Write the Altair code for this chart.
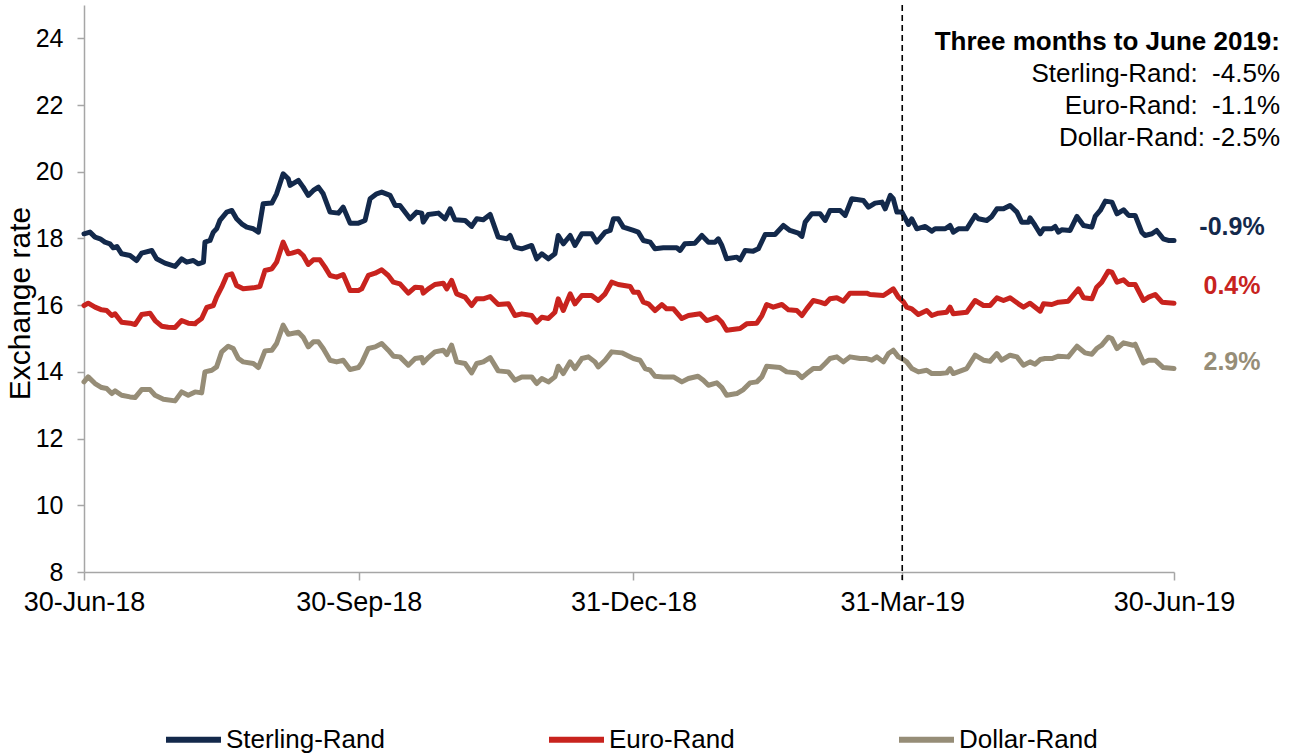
import altair as alt
import pandas as pd

START = "2018-06-30"
series_names = ["Sterling-Rand", "Euro-Rand", "Dollar-Rand"]
series_colors = ["#13294b", "#c8231e", "#968d77"]

# days after 30-Jun-18 and exchange rate
sterling_days = [0, 2.0, 3.7, 5.4, 7.0, 8.7, 9.8, 11.0, 12.6, 15.4, 17.6, 19.3, 22.7, 24.3, 27.1, 30.5,
                 32.7, 34.4, 36.6, 38.3, 40.0, 40.5, 42.2, 43.3, 44.4, 45.5, 47.8, 49.5, 51.1, 52.8, 54.5,
                 56.7, 58.4, 60.0, 62.9, 64.5, 66.7, 68.4, 69.0, 71.8, 73.4, 75.1, 76.8, 78.5, 80.1, 82.4,
                 85.2, 86.8, 89.1, 91.9, 94.1, 95.8, 98.0, 99.7, 102.5, 104.2, 105.8, 109.2, 111.4, 113.1,
                 113.6, 115.3, 118.7, 120.9, 122.6, 124.2, 127.6, 129.8, 131.5, 133.7, 136.0, 138.7, 141.6,
                 142.7, 144.3, 146.6, 149.9, 151.6, 153.3, 155.5, 157.7, 158.8, 160.5, 162.8, 164.4, 166.7,
                 170.0, 171.7, 174.5, 176.2, 177.3, 178.9, 180.6, 184.0, 185.6, 187.3, 189.6, 191.2, 194.0,
                 198.5, 199.6, 201.2, 204.6, 206.9, 209.1, 211.3, 212.4, 213.6, 215.2, 218.6, 219.7, 221.4,
                 224.1, 225.8, 228.1, 231.4, 234.2, 236.4, 239.2, 240.4, 241.5, 243.7, 246.5, 248.2, 249.8,
                 253.2, 254.9, 257.1, 261.0, 262.7, 264.9, 267.2, 268.3, 270.0, 271.0, 272.2, 273.9, 276.1,
                 277.2, 278.9, 281.7, 283.9, 285.0, 288.4, 290.0, 291.1, 292.8, 295.6, 298.4, 299.5, 302.3,
                 304.0, 305.7, 307.9, 310.1, 312.4, 314.0, 316.3, 316.8, 318.5, 320.2, 321.3, 324.1, 325.2,
                 326.3, 327.4, 330.2, 332.5, 334.7, 337.5, 338.6, 340.3, 342.0, 344.2, 345.9, 348.1, 349.8,
                 352.0, 354.2, 355.3, 357.6, 359.2, 361.4, 363.1, 365.0]
sterling_vals = [18.14, 18.19, 18.04, 17.99, 17.89, 17.84, 17.72, 17.76, 17.54, 17.49, 17.34, 17.56, 17.64,
                 17.39, 17.26, 17.16, 17.39, 17.29, 17.34, 17.24, 17.29, 17.89, 17.94, 18.19, 18.29, 18.54,
                 18.79, 18.84, 18.59, 18.44, 18.34, 18.29, 18.19, 19.04, 19.06, 19.34, 19.94, 19.79, 19.59,
                 19.74, 19.54, 19.29, 19.44, 19.54, 19.34, 18.79, 18.76, 18.94, 18.46, 18.46, 18.54, 19.19,
                 19.34, 19.39, 19.29, 18.99, 18.99, 18.59, 18.79, 18.76, 18.49, 18.72, 18.76, 18.59, 18.89,
                 18.56, 18.54, 18.36, 18.59, 18.56, 18.72, 18.04, 17.99, 18.09, 17.74, 17.69, 17.79, 17.39,
                 17.54, 17.39, 17.54, 18.09, 17.84, 18.09, 17.79, 18.14, 18.14, 17.89, 18.19, 18.24, 18.59,
                 18.59, 18.34, 18.24, 18.19, 17.94, 17.89, 17.69, 17.72, 17.72, 17.64, 17.84, 17.86, 18.09,
                 17.89, 17.89, 17.99, 17.79, 17.39, 17.44, 17.36, 17.64, 17.62, 17.69, 18.12, 18.12, 18.39,
                 18.24, 18.16, 18.06, 18.49, 18.74, 18.74, 18.54, 18.84, 18.84, 18.69, 19.19, 19.14, 18.94,
                 19.06, 19.09, 18.89, 19.29, 19.19, 18.79, 18.79, 18.42, 18.59, 18.29, 18.36, 18.22, 18.29,
                 18.29, 18.39, 18.19, 18.29, 18.29, 18.69, 18.59, 18.54, 18.66, 18.89, 18.89, 18.99, 18.79,
                 18.49, 18.49, 18.62, 18.39, 18.14, 18.29, 18.29, 18.36, 18.19, 18.26, 18.24, 18.66, 18.39,
                 18.34, 18.66, 18.84, 19.12, 19.09, 18.74, 18.86, 18.69, 18.69, 18.19, 18.09, 18.14, 18.24,
                 17.99, 17.94, 17.94]

euro_days = [0, 1.4, 3.7, 5.9, 7.6, 9.3, 10.4, 12.6, 15.4, 17.1, 19.3, 22.1, 23.8, 26.0, 28.2, 30.5, 32.7,
             34.9, 37.2, 37.7, 39.4, 41.1, 43.3, 44.4, 46.1, 47.8, 49.5, 51.1, 53.3, 56.7, 58.9, 60.6, 62.9,
             64.5, 66.7, 68.4, 69.6, 71.8, 73.4, 75.1, 76.8, 79.0, 80.7, 82.4, 84.6, 86.8, 89.1, 91.9, 93.0,
             95.2, 97.5, 99.7, 101.9, 103.6, 105.8, 108.6, 110.9, 113.1, 113.6, 115.3, 117.5, 120.3, 121.5,
             123.1, 124.8, 127.6, 129.8, 131.5, 133.7, 136.0, 138.7, 142.1, 144.3, 146.6, 149.9, 151.6,
             153.3, 155.5, 157.7, 158.8, 160.5, 162.8, 164.4, 166.7, 170.0, 172.2, 174.5, 176.7, 178.9,
             182.9, 184.0, 185.6, 187.3, 189.0, 191.2, 193.5, 195.1, 197.4, 200.2, 202.4, 206.3, 208.5,
             209.6, 211.9, 213.6, 215.2, 219.7, 221.9, 225.3, 227.0, 228.6, 230.8, 233.7, 235.9, 238.7,
             240.4, 242.0, 244.2, 246.5, 248.2, 249.8, 252.1, 254.3, 256.5, 259.9, 262.1, 263.2, 267.7,
             269.4, 271.0, 272.7, 274.4, 275.5, 277.2, 279.4, 282.2, 283.9, 286.1, 288.9, 290.0, 291.1,
             295.6, 298.4, 301.2, 303.4, 305.7, 307.9, 310.1, 312.9, 314.6, 316.8, 318.5, 320.2, 321.3,
             324.1, 326.3, 329.6, 333.0, 334.7, 337.5, 339.1, 340.8, 343.0, 344.2, 345.9, 348.1, 349.8,
             352.0, 354.8, 356.5, 358.7, 361.0, 365.0]
euro_vals = [15.99, 16.06, 15.94, 15.86, 15.84, 15.69, 15.74, 15.49, 15.46, 15.42, 15.72, 15.76, 15.54,
             15.37, 15.34, 15.33, 15.54, 15.46, 15.44, 15.49, 15.60, 15.93, 15.99, 16.24, 16.54, 16.89,
             16.94, 16.59, 16.49, 16.52, 16.56, 17.04, 17.09, 17.29, 17.89, 17.54, 17.56, 17.62, 17.49,
             17.22, 17.36, 17.36, 17.14, 16.89, 16.84, 16.92, 16.44, 16.44, 16.49, 16.89, 16.96, 17.06,
             16.89, 16.69, 16.64, 16.36, 16.54, 16.52, 16.36, 16.49, 16.62, 16.66, 16.49, 16.74, 16.34,
             16.24, 15.99, 16.19, 16.19, 16.26, 16.02, 16.04, 15.69, 15.74, 15.69, 15.49, 15.64, 15.60,
             15.79, 16.19, 15.84, 16.34, 16.04, 16.29, 16.29, 16.14, 16.34, 16.69, 16.62, 16.56, 16.39,
             16.39, 16.09, 16.04, 15.84, 16.02, 15.89, 15.89, 15.60, 15.69, 15.74, 15.54, 15.57, 15.64,
             15.49, 15.25, 15.30, 15.44, 15.46, 15.69, 16.02, 15.94, 16.02, 15.86, 15.84, 15.69, 15.89,
             16.14, 16.09, 16.04, 16.19, 16.22, 16.12, 16.36, 16.36, 16.36, 16.32, 16.29, 16.39, 16.49,
             16.24, 16.10, 15.94, 15.89, 15.72, 15.84, 15.69, 15.76, 15.79, 15.94, 15.74, 15.79, 16.14,
             15.99, 15.99, 16.22, 16.14, 16.22, 16.04, 15.94, 16.06, 15.94, 15.82, 16.04, 16.02, 16.09,
             16.12, 16.49, 16.22, 16.19, 16.54, 16.69, 17.02, 16.99, 16.69, 16.76, 16.62, 16.62, 16.14,
             16.24, 16.32, 16.09, 16.06]

dollar_days = [0, 1.4, 3.7, 5.9, 7.6, 9.3, 10.4, 12.6, 15.4, 17.1, 19.3, 22.1, 23.8, 26.6, 30.5, 32.7, 34.9,
               37.2, 39.4, 40.5, 42.8, 44.4, 46.1, 48.3, 50.0, 51.7, 53.3, 56.7, 58.4, 60.6, 62.9, 64.5,
               66.7, 68.4, 70.1, 71.8, 73.4, 75.1, 76.8, 78.5, 80.1, 82.4, 84.6, 86.8, 89.1, 91.9, 93.0,
               95.2, 97.5, 99.7, 101.9, 103.6, 105.8, 108.6, 110.9, 113.1, 113.6, 115.3, 117.5, 120.3,
               121.5, 123.1, 124.8, 127.6, 129.8, 131.5, 133.7, 136.0, 138.7, 142.1, 144.3, 146.6, 149.9,
               151.6, 153.3, 155.5, 157.7, 158.8, 160.5, 162.8, 164.4, 166.7, 168.9, 171.1, 172.2, 174.5,
               176.7, 180.1, 184.0, 186.2, 187.9, 189.6, 191.2, 194.0, 197.4, 200.2, 202.4, 205.6, 207.4,
               209.1, 211.9, 213.6, 215.2, 218.6, 220.8, 223.0, 225.3, 227.0, 228.6, 233.1, 235.3, 238.7,
               240.4, 242.0, 244.2, 246.5, 248.2, 249.8, 252.1, 254.3, 256.5, 259.9, 262.1, 263.8, 265.5,
               267.7, 269.4, 271.0, 272.7, 274.4, 275.5, 277.2, 279.4, 282.2, 283.9, 286.7, 288.9, 290.0,
               291.1, 295.6, 298.4, 301.2, 303.4, 305.7, 307.3, 310.1, 312.4, 314.6, 316.8, 318.5, 320.2,
               321.8, 324.1, 326.3, 329.6, 332.5, 335.2, 337.5, 339.1, 340.8, 343.0, 344.2, 345.9, 348.1,
               351.3, 352.0, 354.8, 356.5, 358.7, 361.4, 365.0]
dollar_vals = [13.70, 13.85, 13.65, 13.53, 13.50, 13.35, 13.43, 13.30, 13.25, 13.23, 13.47, 13.47, 13.30,
               13.18, 13.13, 13.40, 13.30, 13.40, 13.37, 14.00, 14.05, 14.15, 14.60, 14.77, 14.70, 14.40,
               14.30, 14.25, 14.13, 14.63, 14.65, 14.85, 15.40, 15.13, 15.16, 15.19, 15.04, 14.75, 14.90,
               14.90, 14.70, 14.35, 14.30, 14.35, 14.07, 14.13, 14.27, 14.70, 14.75, 14.85, 14.65, 14.47,
               14.45, 14.20, 14.40, 14.43, 14.27, 14.43, 14.60, 14.65, 14.52, 14.80, 14.30, 14.25, 13.97,
               14.25, 14.30, 14.43, 14.03, 14.00, 13.75, 13.85, 13.85, 13.65, 13.80, 13.70, 13.85, 14.17,
               13.95, 14.30, 14.10, 14.40, 14.45, 14.30, 14.15, 14.35, 14.60, 14.57, 14.40, 14.35, 14.10,
               14.05, 13.87, 13.85, 13.85, 13.70, 13.80, 13.87, 13.75, 13.60, 13.67, 13.53, 13.30, 13.35,
               13.47, 13.67, 13.70, 13.85, 14.17, 14.13, 14.00, 13.97, 13.83, 13.95, 14.10, 14.10, 14.25,
               14.40, 14.45, 14.30, 14.45, 14.40, 14.40, 14.35, 14.45, 14.30, 14.55, 14.65, 14.45, 14.37,
               14.30, 14.10, 14.00, 14.05, 13.95, 13.95, 13.97, 14.10, 13.95, 14.10, 14.50, 14.35, 14.32,
               14.55, 14.35, 14.50, 14.45, 14.20, 14.30, 14.23, 14.37, 14.40, 14.40, 14.47, 14.45, 14.77,
               14.57, 14.53, 14.70, 14.80, 15.04, 15.00, 14.70, 14.87, 14.80, 14.83, 14.27, 14.35, 14.35,
               14.13, 14.10]

y_ticks = [8, 10, 12, 14, 16, 18, 20, 22, 24]
x_tick_dates = [(2018, 6, 30), (2018, 9, 30), (2018, 12, 31), (2019, 3, 31), (2019, 6, 30)]
marker_date = (2019, 3, 31)

annot_title = "Three months to June 2019:"
annot_lines = ["Sterling-Rand:\u00a0 -4.5%", "Euro-Rand:\u00a0 -1.1%", "Dollar-Rand: -2.5%"]
end_labels = ["-0.9%", "0.4%", "2.9%"]

FONT = "Liberation Sans"

frames = []
for name, days, vals in zip(series_names, [sterling_days, euro_days, dollar_days],
                            [sterling_vals, euro_vals, dollar_vals]):
    frames.append(pd.DataFrame({
        "series": name,
        "date": pd.Timestamp(START) + pd.to_timedelta(days, unit="D"),
        "rate": vals,
    }))
df = pd.concat(frames, ignore_index=True)


def dt(t):
    return alt.DateTime(year=t[0], month=t[1], date=t[2])


x_enc = alt.X(
    "date:T",
    scale=alt.Scale(domain=[dt(x_tick_dates[0]), dt(x_tick_dates[-1])]),
    axis=alt.Axis(
        values=[dt(t) for t in x_tick_dates], format="%d-%b-%y", title=None, grid=False,
        labelFlush=False, labelOverlap=False, labelBound=False,
        labelFontSize=27, labelFont=FONT, labelColor="black", labelPadding=9,
        tickSize=8, tickColor="#a6a6a6", tickWidth=1.5,
        domainColor="#a6a6a6", domainWidth=1.5,
    ),
)
y_enc = alt.Y(
    "rate:Q",
    scale=alt.Scale(domain=[8, 25], nice=False, zero=False),
    axis=alt.Axis(
        values=y_ticks, title="Exchange rate", grid=False, labelOverlap=False,
        labelFontSize=25, labelFont=FONT, labelColor="black", labelPadding=14,
        tickSize=7, tickColor="#a6a6a6", tickWidth=1.5,
        domainColor="#a6a6a6", domainWidth=1.5,
        titleFont=FONT, titleFontSize=30, titleFontWeight="normal", titleColor="black",
        titleAngle=270, titleAlign="center", titleBaseline="middle", titleX=-64, titleY=298,
    ),
)

lines = alt.Chart(df).mark_line(strokeWidth=5, strokeJoin="round", strokeCap="round").encode(
    x=x_enc,
    y=y_enc,
    color=alt.Color(
        "series:N",
        scale=alt.Scale(domain=series_names, range=series_colors),
        legend=alt.Legend(
            title=None, orient="none", direction="horizontal", legendX=79, legendY=704,
            symbolType="stroke", symbolSize=3025, symbolStrokeWidth=6,
            labelFontSize=26, labelFont=FONT, labelColor="black", labelOffset=2,
            columnPadding=152, padding=0,
        ),
    ),
    detail="series:N",
)

rule = alt.Chart(pd.DataFrame({"date": [pd.Timestamp(*marker_date)]})).mark_rule(
    color="black", strokeWidth=1.6, strokeDash=[6, 4]
).encode(x="date:T", y=alt.value(0), y2=alt.value(575))

texts = []
texts.append(
    alt.Chart(pd.DataFrame({"t": [annot_title]})).mark_text(
        align="right", baseline="middle", font=FONT, fontSize=26, fontWeight="bold", color="black"
    ).encode(text="t:N", x=alt.value(1196), y=alt.value(37))
)
for i, s in enumerate(annot_lines):
    texts.append(
        alt.Chart(pd.DataFrame({"t": [s]})).mark_text(
            align="right", baseline="middle", font=FONT, fontSize=26, color="black"
        ).encode(text="t:N", x=alt.value(1196), y=alt.value(69 + 32 * i))
    )
for lab, col, yy in zip(end_labels, series_colors, [222, 281, 357]):
    texts.append(
        alt.Chart(pd.DataFrame({"t": [lab]})).mark_text(
            align="center", baseline="middle", font=FONT, fontSize=25, fontWeight="bold", color=col
        ).encode(text="t:N", x=alt.value(1148), y=alt.value(yy))
    )

chart = alt.layer(lines, rule, *texts).properties(
    width=1090, height=567,
    padding={"left": 84, "top": 5, "right": 119, "bottom": 183},
    autosize=alt.AutoSizeParams(type="none"),
    background="white",
).configure_view(stroke=None)

chart.save("out.html", embed_options={"renderer": "svg", "actions": False})
